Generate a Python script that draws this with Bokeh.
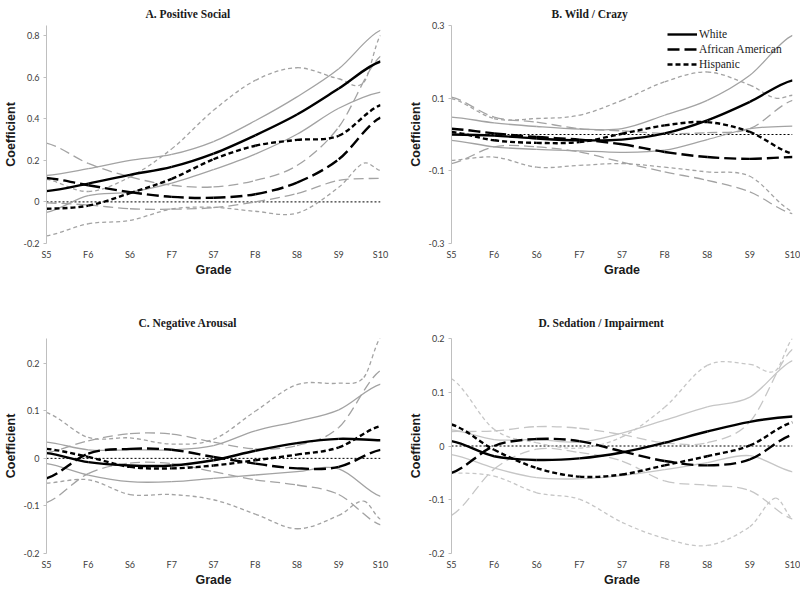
from bokeh.plotting import figure
from bokeh.models import (Range1d, FixedTicker, Span, Legend, LegendItem,
                          ColumnDataSource, CustomJSTickFormatter)
from bokeh.layouts import column, row
from bokeh.embed import file_html
from bokeh.resources import INLINE

grades = ["S5", "F6", "S6", "F7", "S7", "F8", "S8", "S9", "S10"]
groups = ["White", "African American", "Hispanic"]
# grade positions (index on the grade axis); some Hispanic CI series were read
# at one extra position between S9 and S10
x_grades = [0, 1, 2, 3, 4, 5, 6, 7, 8]
x_grades_tail = [0, 1, 2, 3, 4, 5, 6, 7, 7.6, 8]

# ---- Panel A: Positive Social ----
a_white    = [0.052, 0.088, 0.130, 0.168, 0.232, 0.320, 0.420, 0.545, 0.675]
a_white_hi = [0.127, 0.160, 0.200, 0.228, 0.290, 0.390, 0.505, 0.640, 0.825]
a_white_lo = [-0.050, 0.030, 0.047, 0.090, 0.155, 0.230, 0.325, 0.450, 0.528]
a_aa       = [0.115, 0.080, 0.047, 0.024, 0.020, 0.037, 0.093, 0.205, 0.405]
a_aa_hi    = [0.283, 0.185, 0.120, 0.080, 0.072, 0.103, 0.175, 0.360, 0.700]
a_aa_lo    = [-0.005, -0.015, -0.033, -0.035, -0.028, 0.000, 0.040, 0.103, 0.113]
a_hisp     = [-0.033, -0.018, 0.042, 0.111, 0.205, 0.270, 0.298, 0.318, 0.465]
a_hisp_hi  = [0.108, 0.050, 0.120, 0.255, 0.440, 0.584, 0.645, 0.592, 0.575, 0.800]
a_hisp_lo  = [-0.163, -0.105, -0.089, -0.034, -0.026, -0.045, -0.054, 0.070, 0.186, 0.150]

# ---- Panel B: Wild / Crazy ----
b_white    = [0.000, -0.003, -0.011, -0.016, -0.014, 0.003, 0.039, 0.090, 0.149]
b_white_hi = [0.048, 0.032, 0.022, 0.015, 0.016, 0.053, 0.094, 0.163, 0.273]
b_white_lo = [-0.016, -0.034, -0.041, -0.045, -0.049, -0.043, -0.014, 0.016, 0.023]
b_aa       = [0.016, 0.003, -0.007, -0.014, -0.027, -0.048, -0.062, -0.067, -0.062]
b_aa_hi    = [0.103, 0.048, 0.034, 0.016, 0.010, 0.003, 0.005, 0.016, 0.094]
b_aa_lo    = [-0.080, -0.034, -0.034, -0.048, -0.076, -0.103, -0.126, -0.158, -0.218]
b_hisp     = [0.007, -0.016, -0.023, -0.021, 0.002, 0.025, 0.034, 0.007, -0.053]
b_hisp_hi  = [0.099, 0.044, 0.044, 0.053, 0.094, 0.145, 0.172, 0.136, 0.100, 0.108]
b_hisp_lo  = [-0.071, -0.062, -0.090, -0.085, -0.080, -0.090, -0.103, -0.115, -0.212]

# ---- Panel C: Negative Arousal ----
c_white    = [0.011, -0.008, -0.015, -0.015, -0.004, 0.016, 0.032, 0.041, 0.038]
c_white_hi = [0.034, 0.018, 0.018, 0.018, 0.027, 0.058, 0.078, 0.102, 0.156]
c_white_lo = [-0.011, -0.035, -0.049, -0.049, -0.042, -0.035, -0.028, -0.022, -0.080]
c_aa       = [-0.042, 0.010, 0.020, 0.018, 0.003, -0.011, -0.021, -0.018, 0.018]
c_aa_hi    = [0.012, 0.037, 0.052, 0.051, 0.034, 0.020, 0.027, 0.065, 0.185]
c_aa_lo    = [-0.093, -0.032, -0.010, -0.011, -0.028, -0.045, -0.056, -0.076, -0.140]
c_hisp     = [0.020, 0.003, -0.018, -0.021, -0.015, -0.004, 0.008, 0.023, 0.068]
c_hisp_hi  = [0.096, 0.044, 0.043, 0.030, 0.040, 0.099, 0.155, 0.158, 0.170, 0.254]
c_hisp_lo  = [-0.052, -0.045, -0.076, -0.076, -0.087, -0.117, -0.148, -0.120, -0.090, -0.128]

# ---- Panel D: Sedation / Impairment ----
d_white    = [0.009, -0.019, -0.026, -0.023, -0.012, 0.006, 0.027, 0.045, 0.055]
d_white_hi = [0.030, 0.012, 0.012, 0.007, 0.024, 0.048, 0.073, 0.091, 0.159]
d_white_lo = [-0.016, -0.041, -0.059, -0.061, -0.055, -0.044, -0.031, -0.018, -0.048]
d_aa       = [-0.050, 0.000, 0.013, 0.009, -0.010, -0.028, -0.036, -0.025, 0.021]
d_aa_hi    = [0.027, 0.028, 0.036, 0.033, 0.021, 0.006, 0.006, 0.045, 0.180]
d_aa_lo    = [-0.129, -0.043, -0.006, -0.012, -0.028, -0.065, -0.073, -0.083, -0.136]
d_hisp     = [0.040, -0.007, -0.041, -0.057, -0.053, -0.036, -0.019, 0.001, 0.044]
d_hisp_hi  = [0.125, 0.031, 0.006, -0.004, 0.017, 0.072, 0.150, 0.152, 0.140, 0.200]
d_hisp_lo  = [-0.050, -0.056, -0.087, -0.099, -0.142, -0.172, -0.185, -0.150, -0.097, -0.136]

a_ticks = [-0.2, 0, 0.2, 0.4, 0.6, 0.8]
b_ticks = [-0.3, -0.1, 0.1, 0.3]
c_ticks = [-0.2, -0.1, 0, 0.1, 0.2]
d_ticks = [-0.2, -0.1, 0, 0.1, 0.2]

DASH = {"White": "solid", "African American": "12 5", "Hispanic": "5 3"}
CI_DASH = {"White": "solid", "African American": "10 5", "Hispanic": "4 3"}

TICK_FONT = "Lato"


def add_curve(p, vals, color, width, dash):
    xs = x_grades if len(vals) == len(x_grades) else x_grades_tail
    n = len(vals)
    m = []
    for i in range(n):
        if i == 0:
            m.append(0.5 * (vals[1] - vals[0]) / (xs[1] - xs[0]))
        elif i == n - 1:
            m.append(0.5 * (vals[-1] - vals[-2]) / (xs[-1] - xs[-2]))
        else:
            m.append((vals[i + 1] - vals[i - 1]) / (xs[i + 1] - xs[i - 1]))
    h = [xs[i + 1] - xs[i] for i in range(n - 1)]
    src = ColumnDataSource(dict(
        x0=xs[:-1], y0=vals[:-1], x1=xs[1:], y1=vals[1:],
        cx0=[xs[i] + h[i] / 3 for i in range(n - 1)],
        cy0=[vals[i] + m[i] * h[i] / 3 for i in range(n - 1)],
        cx1=[xs[i + 1] - h[i] / 3 for i in range(n - 1)],
        cy1=[vals[i + 1] - m[i + 1] * h[i] / 3 for i in range(n - 1)],
    ))
    p.bezier(x0="x0", y0="y0", x1="x1", y1="y1", cx0="cx0", cy0="cy0",
             cx1="cx1", cy1="cy1", source=src, line_color=color,
             line_width=width, line_dash=dash)


def make_panel(title, yr, yticks, series, w, h, bl, br, bt, bb, title_off,
               title_standoff, ci_color):
    p = figure(width=w, height=h, x_range=Range1d(0, 8), y_range=Range1d(*yr),
               output_backend="svg", toolbar_location=None,
               min_border_left=bl, min_border_right=br,
               min_border_top=bt, min_border_bottom=bb,
               outline_line_color=None, background_fill_color="white",
               border_fill_color="white")
    p.title.text = title
    p.title.align = "left"
    p.title.offset = title_off
    p.title.standoff = title_standoff
    p.title.text_font = "Liberation Serif"
    p.title.text_font_style = "bold"
    p.title.text_font_size = "11.5px"
    p.title.text_color = "#1a1a1a"
    p.xgrid.visible = False
    p.ygrid.visible = False

    xa = p.xaxis[0]
    xa.ticker = FixedTicker(ticks=x_grades)
    xa.major_label_overrides = {i: g for i, g in zip(x_grades, grades)}
    xa.axis_line_color = None
    xa.major_tick_line_color = None
    xa.major_tick_out = 0
    xa.major_tick_in = 0
    xa.minor_tick_line_color = None
    xa.minor_tick_out = 0
    xa.major_label_standoff = 5
    xa.major_label_text_font = TICK_FONT
    xa.major_label_text_font_size = "9px"
    xa.major_label_text_color = "#404040"
    xa.axis_label = "Grade"
    xa.axis_label_standoff = 0
    xa.axis_label_text_font = "Liberation Sans"
    xa.axis_label_text_font_style = "bold"
    xa.axis_label_text_font_size = "12.5px"
    xa.axis_label_text_color = "#1a1a1a"

    ya = p.yaxis[0]
    ya.ticker = FixedTicker(ticks=yticks)
    ya.formatter = CustomJSTickFormatter(
        code="return Math.abs(tick) < 1e-9 ? '0' : tick.toFixed(1);")
    ya.axis_line_color = "#bfbfbf"
    ya.major_tick_line_color = "#bfbfbf"
    ya.major_tick_out = 3
    ya.major_tick_in = 0
    ya.minor_tick_line_color = None
    ya.minor_tick_out = 0
    ya.major_label_standoff = 4
    ya.major_label_text_font = TICK_FONT
    ya.major_label_text_font_size = "9px"
    ya.major_label_text_color = "#404040"
    ya.axis_label = "Coefficient"
    ya.axis_label_standoff = 3
    ya.axis_label_text_font = "Liberation Sans"
    ya.axis_label_text_font_style = "bold"
    ya.axis_label_text_font_size = "12.5px"
    ya.axis_label_text_color = "#1a1a1a"

    zero = Span(location=0, dimension="width", line_color="black",
                line_width=1, line_dash="2 2", level="underlay")
    p.add_layout(zero)

    for g, (est, hi, lo) in zip(groups, series):
        add_curve(p, hi, ci_color, 1.3, CI_DASH[g])
        add_curve(p, lo, ci_color, 1.3, CI_DASH[g])
    for g, (est, hi, lo) in zip(groups, series):
        add_curve(p, est, "black", 2.4, DASH[g])
    return p


GRAY = "#a3a3a3"
LIGHT = "#c6c6c6"

pA = make_panel("A. Positive Social", (-0.2, 0.848), a_ticks,
                [(a_white, a_white_hi, a_white_lo), (a_aa, a_aa_hi, a_aa_lo),
                 (a_hisp, a_hisp_hi, a_hisp_lo)],
                400, 295, 39, 20, 25, 52, 99, 11, GRAY)
pB = make_panel("B. Wild / Crazy", (-0.3, 0.3), b_ticks,
                [(b_white, b_white_hi, b_white_lo), (b_aa, b_aa_hi, b_aa_lo),
                 (b_hisp, b_hisp_hi, b_hisp_lo)],
                400, 295, 51, 8, 25, 52, 100, 11, GRAY)
pC = make_panel("C. Negative Arousal", (-0.2, 0.252), c_ticks,
                [(c_white, c_white_hi, c_white_lo), (c_aa, c_aa_hi, c_aa_lo),
                 (c_hisp, c_hisp_hi, c_hisp_lo)],
                400, 294, 39, 20, 43, 32, 92, 20, GRAY)
pD = make_panel("D. Sedation / Impairment", (-0.2, 0.2), d_ticks,
                [(d_white, d_white_hi, d_white_lo), (d_aa, d_aa_hi, d_aa_lo),
                 (d_hisp, d_hisp_hi, d_hisp_lo)],
                400, 294, 51, 8, 43, 32, 87, 20, LIGHT)

# legend in panel B (proxy renderers carry no visible data)
nan = float("nan")
proxies = []
for g in groups:
    r = pB.line(x=[nan], y=[nan], line_color="black", line_width=2.4,
                line_dash=DASH[g])
    proxies.append(LegendItem(label=g, renderers=[r]))
legend = Legend(items=proxies, location=(216, 172), border_line_color=None,
                background_fill_alpha=0, padding=0, margin=0, spacing=1,
                glyph_width=30, glyph_height=14, label_height=14,
                label_standoff=2, label_text_font="Liberation Serif",
                label_text_font_size="11.5px", label_text_color="#1a1a1a")
pB.add_layout(legend)

layout = column(row(pA, pB, spacing=0), row(pC, pD, spacing=0), spacing=0)

open("out.html", "w").write(file_html(layout, INLINE))
